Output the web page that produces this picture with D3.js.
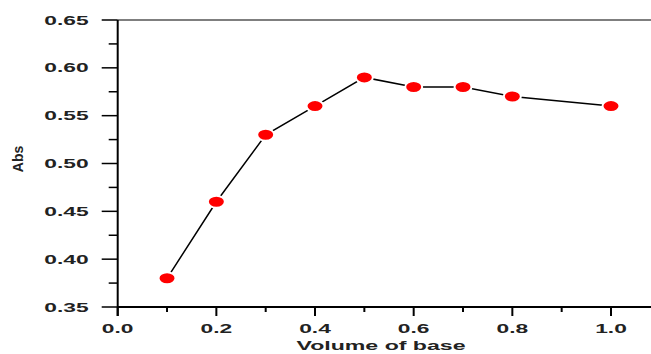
<!DOCTYPE html>
<html>
<head>
<meta charset="utf-8">
<script src="https://cdn.jsdelivr.net/npm/d3@7"></script>
<style>
  body { margin: 0; background: #fff; }
  svg text { font-family: "Liberation Sans", Arial, sans-serif; font-weight: bold; fill: #222; }
</style>
</head>
<body>
<div id="chart"></div>
<script>
// data
const volumes = [0.1, 0.2, 0.3, 0.4, 0.5, 0.6, 0.7, 0.8, 1.0];
const absValues = [0.38, 0.46, 0.53, 0.56, 0.59, 0.58, 0.58, 0.57, 0.56];
const xMajorTicks = [0.0, 0.2, 0.4, 0.6, 0.8, 1.0];
const xMinorTicks = [0.1, 0.3, 0.5, 0.7, 0.9];
const yMajorTicks = [0.35, 0.40, 0.45, 0.50, 0.55, 0.60, 0.65];
const yMinorTicks = [0.375, 0.425, 0.475, 0.525, 0.575, 0.625];

const W = 651, H = 354;
const stretch = 1.9; // text in the picture is stretched sideways

const svg = d3.select("#chart").append("svg")
    .attr("width", W)
    .attr("height", H);

// scales (plot is cut off at the right edge of the picture)
const x = d3.scaleLinear().domain([0, 1.09]).range([117.7, 655.4]);
const y = d3.scaleLinear().domain([0.35, 0.65]).range([307, 20]);

// top frame line
svg.append("line")
    .attr("x1", x(0)).attr("x2", W)
    .attr("y1", y(0.65)).attr("y2", y(0.65))
    .attr("stroke", "#555")
    .attr("stroke-width", 1.5);

// x axis
const xAxis = svg.append("g").attr("transform", `translate(0,${y(0.35)})`);
xAxis.append("line")
    .attr("x1", x(0)).attr("x2", W)
    .attr("stroke", "#000").attr("stroke-width", 2);
xAxis.selectAll(".xmaj").data(xMajorTicks).enter().append("line")
    .attr("x1", d => x(d)).attr("x2", d => x(d))
    .attr("y1", 0).attr("y2", 9)
    .attr("stroke", "#000").attr("stroke-width", 2);
xAxis.selectAll(".xmin").data(xMinorTicks).enter().append("line")
    .attr("x1", d => x(d)).attr("x2", d => x(d))
    .attr("y1", 0).attr("y2", 5)
    .attr("stroke", "#000").attr("stroke-width", 2);
xAxis.selectAll(".xlab").data(xMajorTicks).enter().append("text")
    .attr("transform", d => `translate(${x(d)},26) scale(${stretch},1)`)
    .attr("text-anchor", "middle")
    .style("font-size", "12px")
    .text(d => d.toFixed(1));

// y axis
const yAxis = svg.append("g").attr("transform", `translate(${x(0)},0)`);
yAxis.append("line")
    .attr("y1", y(0.65)).attr("y2", y(0.35) + 9)
    .attr("stroke", "#000").attr("stroke-width", 2);
yAxis.selectAll(".ymaj").data(yMajorTicks).enter().append("line")
    .attr("y1", d => y(d)).attr("y2", d => y(d))
    .attr("x1", -16).attr("x2", 0)
    .attr("stroke", "#000").attr("stroke-width", 1.5);
yAxis.selectAll(".ymin").data(yMinorTicks).enter().append("line")
    .attr("y1", d => y(d)).attr("y2", d => y(d))
    .attr("x1", -9).attr("x2", 0)
    .attr("stroke", "#000").attr("stroke-width", 1.5);
yAxis.selectAll(".ylab").data(yMajorTicks).enter().append("text")
    .attr("transform", d => `translate(-29,${y(d) + 4.5}) scale(${stretch},1)`)
    .attr("text-anchor", "end")
    .style("font-size", "12px")
    .text(d => d.toFixed(2));

// axis titles
svg.append("text")
    .attr("transform", `translate(381,350) scale(${stretch - 0.05},1)`)
    .attr("text-anchor", "middle")
    .style("font-size", "12.5px")
    .text("Volume of base");

svg.append("text")
    .attr("transform", "translate(23,159) rotate(-90)")
    .attr("text-anchor", "middle")
    .style("font-size", "14px")
    .text("Abs");

// the line
const pts = volumes.map((v, i) => ({ v: v, a: absValues[i] }));
svg.append("path")
    .datum(pts)
    .attr("fill", "none")
    .attr("stroke", "#000")
    .attr("stroke-width", 1.5)
    .attr("d", d3.line().x(d => x(d.v)).y(d => y(d.a)));

// markers (white ring leaves the small gap round each point)
svg.selectAll(".pt").data(pts).enter().append("ellipse")
    .attr("cx", d => x(d.v))
    .attr("cy", d => y(d.a))
    .attr("rx", 8.5)
    .attr("ry", 6)
    .attr("fill", "#ff0000")
    .attr("stroke", "#fff")
    .attr("stroke-width", 2);
</script>
</body>
</html>
